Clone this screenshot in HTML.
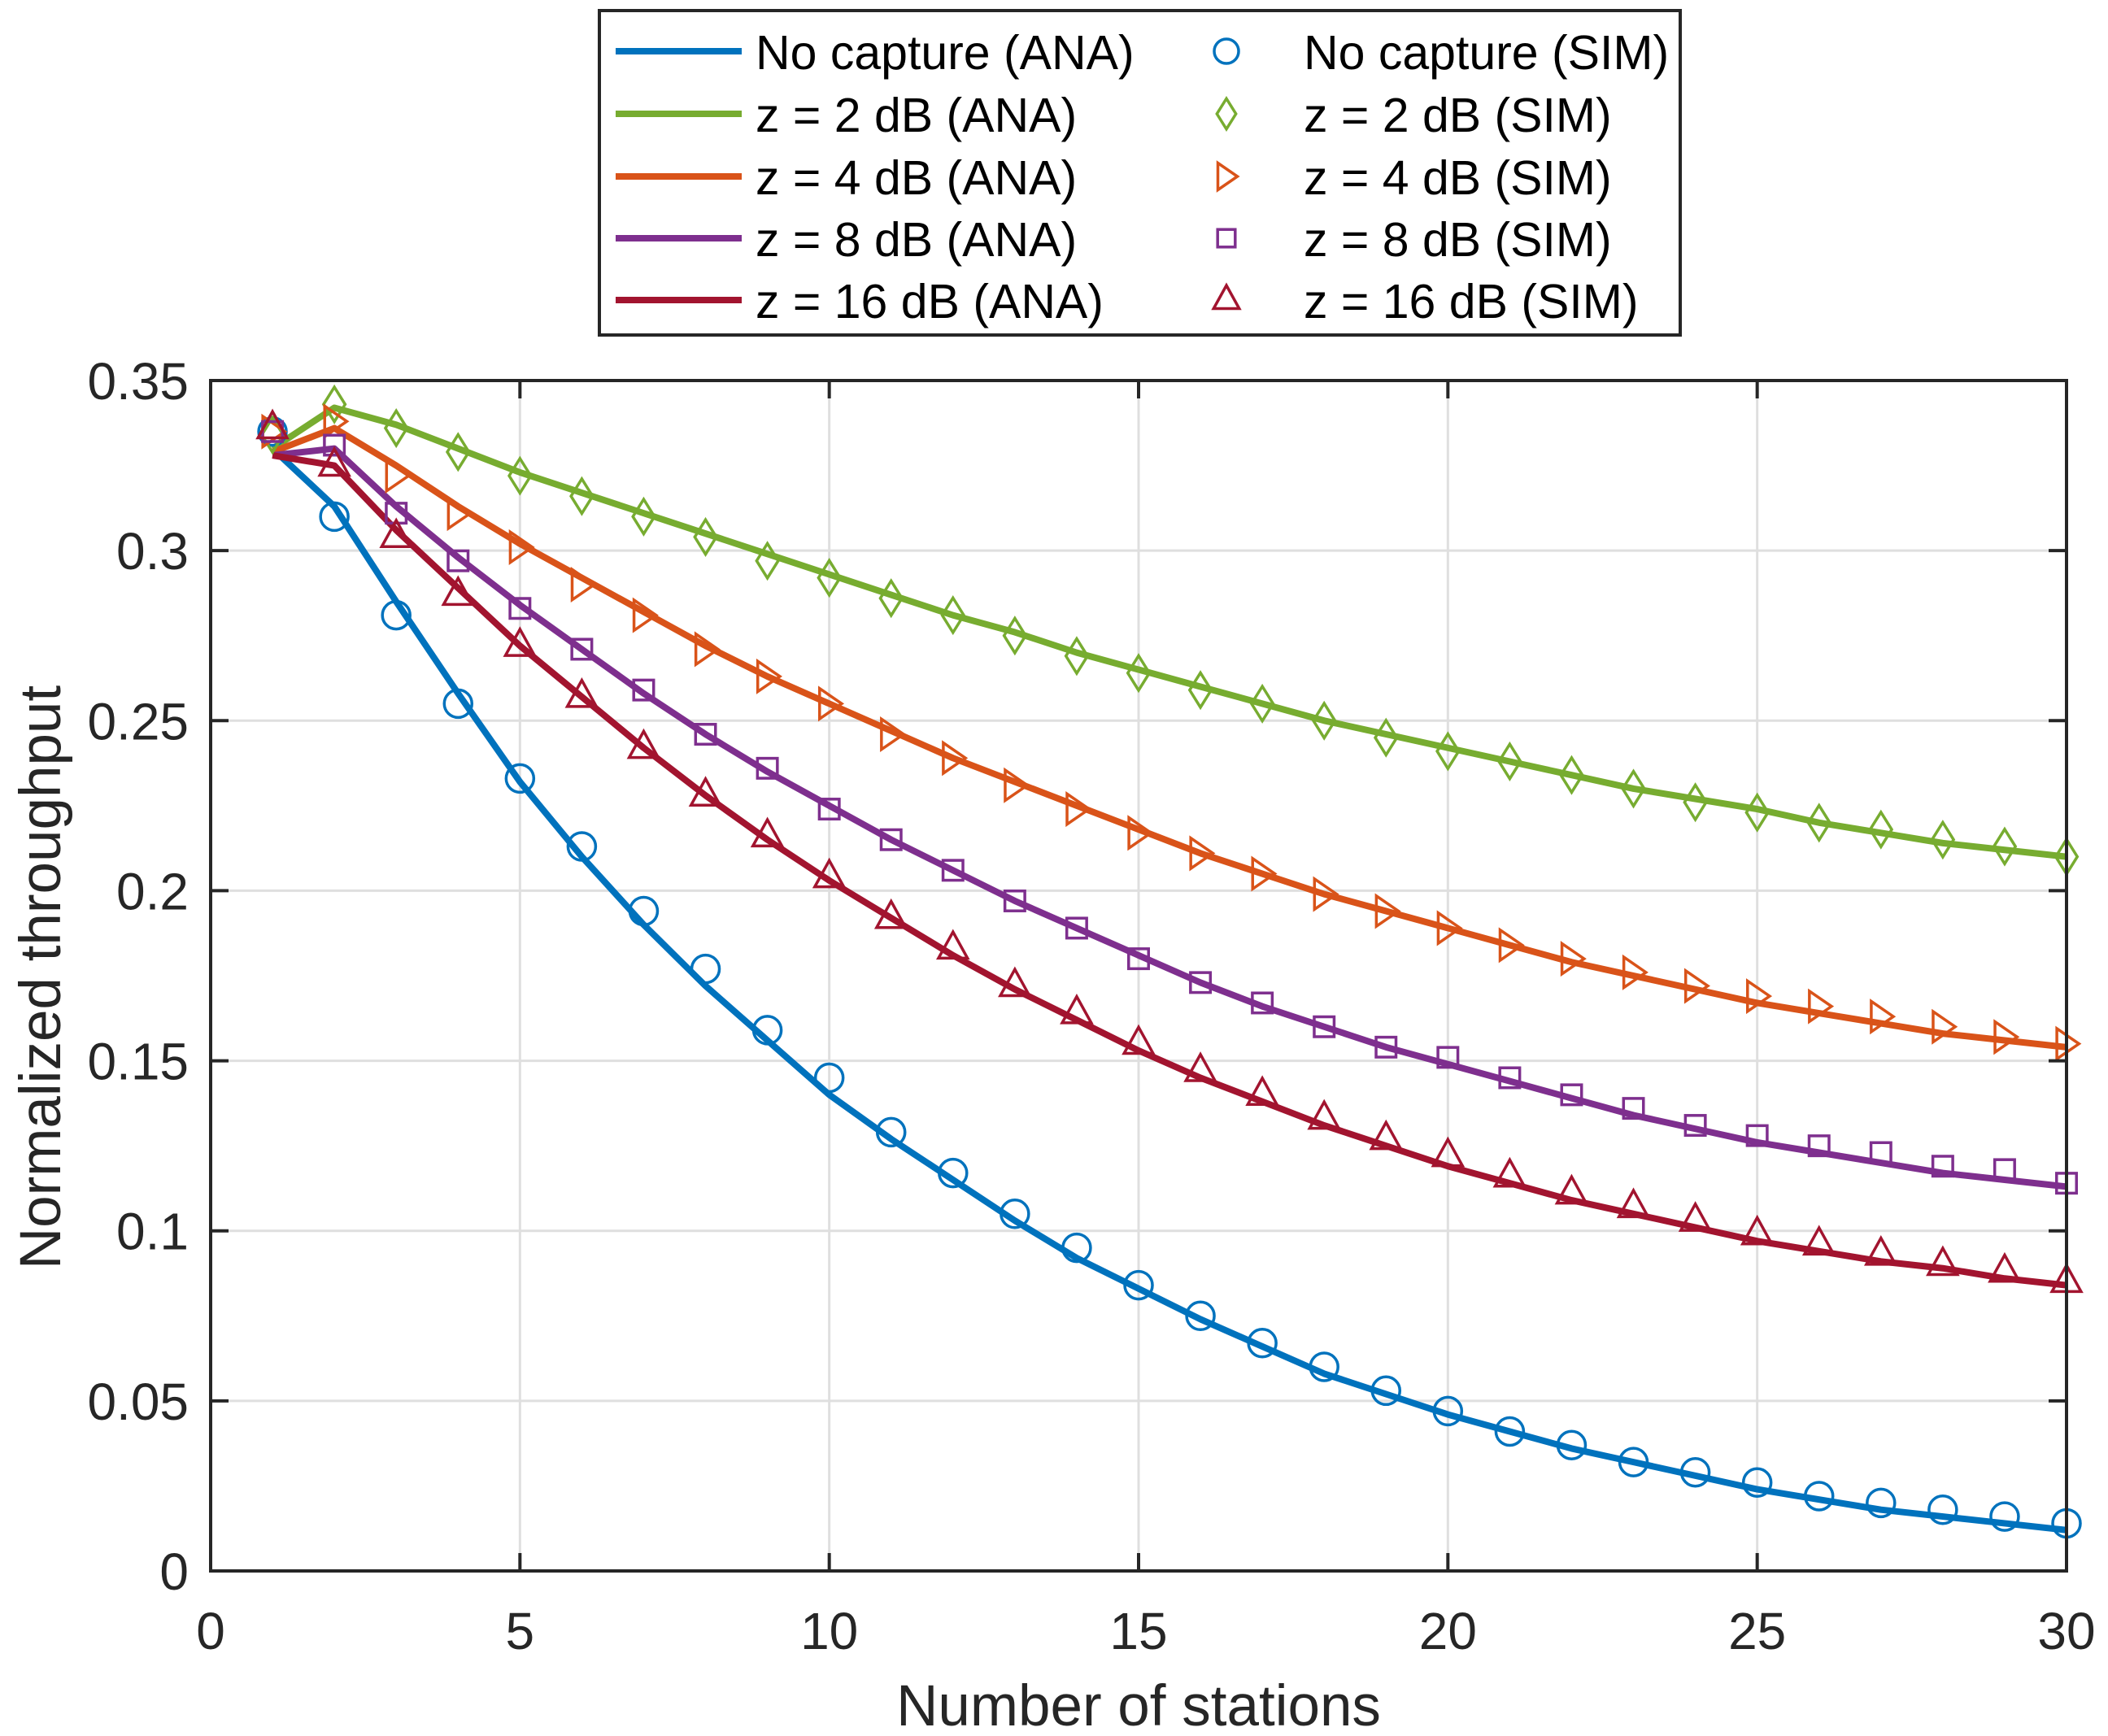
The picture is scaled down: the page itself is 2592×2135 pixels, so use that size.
<!DOCTYPE html>
<html><head><meta charset="utf-8"><style>
html,body{margin:0;padding:0;background:#fff}
svg{display:block;font-family:"Liberation Sans",Arial,sans-serif}
</style></head><body>
<svg id="chart" width="2592" height="2135" viewBox="0 0 2592 2135" xmlns="http://www.w3.org/2000/svg">
<rect width="2592" height="2135" fill="#fff"/>
<g id="grid"></g>
<g id="series"></g>
<g id="axes"></g>
<g id="legend"></g>
</svg>
<script>
const stations = [1,2,3,4,5,6,7,8,9,10,11,12,13,14,15,16,17,18,19,20,21,22,23,24,25,26,27,28,29,30];
const xTicks = [0,5,10,15,20,25,30];
const yTicks = [0,0.05,0.1,0.15,0.2,0.25,0.3,0.35];
const yTickLabels = ["0","0.05","0.1","0.15","0.2","0.25","0.3","0.35"];
const blueAna = [0.33,0.313,0.285,0.258,0.232,0.21,0.19,0.172,0.156,0.14,0.127,0.115,0.103,0.092,0.083,0.074,0.066,0.058,0.052,0.046,0.041,0.036,0.032,0.028,0.024,0.021,0.018,0.016,0.014,0.012];
const blueSim = [0.335,0.31,0.281,0.255,0.233,0.213,0.194,0.177,0.159,0.145,0.129,0.117,0.105,0.095,0.084,0.075,0.067,0.060,0.053,0.047,0.041,0.037,0.032,0.029,0.026,0.022,0.020,0.018,0.016,0.014];
const greenAna = [0.33,0.342,0.337,0.33,0.323,0.317,0.311,0.305,0.299,0.293,0.287,0.281,0.276,0.27,0.265,0.26,0.255,0.25,0.246,0.242,0.238,0.234,0.23,0.227,0.224,0.22,0.217,0.214,0.212,0.21];
const greenSim = [0.334,0.343,0.336,0.329,0.322,0.316,0.31,0.304,0.297,0.292,0.286,0.281,0.275,0.269,0.264,0.259,0.255,0.25,0.245,0.241,0.238,0.234,0.23,0.226,0.223,0.22,0.218,0.215,0.213,0.21];
const orangeAna = [0.329,0.336,0.325,0.313,0.302,0.292,0.282,0.272,0.263,0.255,0.247,0.239,0.232,0.225,0.218,0.211,0.205,0.199,0.194,0.189,0.184,0.179,0.175,0.171,0.167,0.164,0.161,0.158,0.156,0.154];
const orangeSim = [0.335,0.338,0.322,0.311,0.301,0.29,0.281,0.271,0.263,0.255,0.246,0.239,0.231,0.224,0.217,0.211,0.205,0.199,0.194,0.189,0.184,0.18,0.176,0.172,0.169,0.166,0.163,0.16,0.157,0.155];
const purpleAna = [0.328,0.33,0.313,0.298,0.284,0.271,0.258,0.246,0.235,0.225,0.215,0.206,0.197,0.189,0.181,0.173,0.166,0.16,0.154,0.149,0.144,0.139,0.134,0.13,0.126,0.123,0.12,0.117,0.115,0.113];
const purpleSim = [0.335,0.331,0.311,0.297,0.283,0.271,0.259,0.246,0.236,0.224,0.215,0.206,0.197,0.189,0.18,0.173,0.167,0.16,0.154,0.151,0.145,0.14,0.136,0.131,0.128,0.125,0.123,0.119,0.118,0.114];
const redAna = [0.328,0.325,0.306,0.289,0.272,0.257,0.242,0.228,0.215,0.203,0.192,0.181,0.171,0.162,0.153,0.145,0.138,0.131,0.125,0.119,0.114,0.109,0.105,0.101,0.097,0.094,0.091,0.089,0.086,0.084];
const redSim = [0.336,0.325,0.304,0.287,0.272,0.257,0.242,0.228,0.216,0.204,0.192,0.183,0.172,0.164,0.155,0.147,0.14,0.133,0.127,0.122,0.116,0.111,0.107,0.103,0.099,0.096,0.093,0.09,0.088,0.085];
const seriesNames = ["No capture","z = 2 dB","z = 4 dB","z = 8 dB","z = 16 dB"];

const NS="http://www.w3.org/2000/svg";
const L=259,R=2541,T=468,B=1932;
const xs=v=>L+(v-0)/(30-0)*(R-L);
const ys=v=>B-(v-0)/(0.35-0)*(B-T);
function mk(tag,attrs,parent){const e=document.createElementNS(NS,tag);for(const k in attrs)e.setAttribute(k,attrs[k]);parent.appendChild(e);return e;}
const grid=document.getElementById('grid'),axes=document.getElementById('axes'),ser=document.getElementById('series'),leg=document.getElementById('legend');

xTicks.forEach(t=>{
  const g=mk('line',{x1:xs(t),x2:xs(t),y1:T,y2:B,stroke:'#dfdfdf','stroke-width':3},grid);
  
  
  const tk=mk('line',{x1:xs(t),x2:xs(t),y1:B,y2:B-22,stroke:'#262626','stroke-width':4},axes);
  
  
  const tk2=mk('line',{x1:xs(t),x2:xs(t),y1:T,y2:T+22,stroke:'#262626','stroke-width':4},axes);
  
  
  const tx=mk('text',{x:xs(t),y:2028,'font-size':64,'text-anchor':'middle',fill:'#262626'},axes);
  tx.textContent=String(t);
  
  
});
yTicks.forEach((t,i)=>{
  const g=mk('line',{x1:L,x2:R,y1:ys(t),y2:ys(t),stroke:'#dfdfdf','stroke-width':3},grid);
  
  
  const tk=mk('line',{x1:L,x2:L+22,y1:ys(t),y2:ys(t),stroke:'#262626','stroke-width':4},axes);
  
  
  const tk2=mk('line',{x1:R,x2:R-22,y1:ys(t),y2:ys(t),stroke:'#262626','stroke-width':4},axes);
  
  
  const tx=mk('text',{x:232,y:ys(t)+23,'font-size':64,'text-anchor':'end',fill:'#262626'},axes);
  tx.textContent=yTickLabels[i];
  
  
});
const box=mk('rect',{x:L,y:T,width:R-L,height:B-T,fill:'none',stroke:'#262626','stroke-width':4},axes);


const xl=mk('text',{x:1400,y:2122,'font-size':71,'text-anchor':'middle',fill:'#262626'},axes);
xl.textContent='Number of stations';


const yl=mk('text',{x:0,y:0,'font-size':71,'text-anchor':'middle',fill:'#262626',transform:'translate(74,1202) rotate(-90)'},axes);
yl.textContent='Normalized throughput';



const colors=['#0072bd','#77ac30','#d95319','#7e2f8e','#a2142f'];
const anas=[blueAna,greenAna,orangeAna,purpleAna,redAna];
const sims=[blueSim,greenSim,orangeSim,purpleSim,redSim];
const markers=['circle','diamond','triangle-right','square','triangle-up'];
function marker(type,cx,cy,s,col,parent){
  const st={fill:'none',stroke:col,'stroke-width':3.5};
  let e;
  if(type==='circle'){e=mk('circle',Object.assign({cx:cx,cy:cy,r:s},st),parent);}
  else if(type==='square'){e=mk('rect',Object.assign({x:cx-s*0.72,y:cy-s*0.72,width:s*1.44,height:s*1.44},st),parent);}
  else{
    let p;
    if(type==='diamond')p=[[cx,cy-s*1.25],[cx+s*0.78,cy],[cx,cy+s*1.25],[cx-s*0.78,cy]];
    else if(type==='triangle-right')p=[[cx-s*0.7,cy-s*1.1],[cx+s*0.9,cy],[cx-s*0.7,cy+s*1.1]];
    else p=[[cx,cy-s*1.2],[cx+s*1.05,cy+s*0.7],[cx-s*1.05,cy+s*0.7]];
    e=mk('polygon',Object.assign({points:p.map(q=>q.join(',')).join(' ')},st),parent);
  }
  return e;
}
anas.forEach((arr,k)=>{
  const pl=mk('polyline',{points:stations.map((x,i)=>xs(x)+','+ys(arr[i])).join(' '),fill:'none',stroke:colors[k],'stroke-width':8,'stroke-linejoin':'round'},ser);
  
  
});
sims.forEach((arr,k)=>{
  stations.forEach((x,i)=>{
    const m=marker(markers[k],xs(x),ys(arr[i]),17,colors[k],ser);
    
    
  });
});

const lb=mk('rect',{x:737,y:13,width:1329,height:399,fill:'#fff',stroke:'#262626','stroke-width':4},leg);


const rowsY=[63,140,217,293,369];
seriesNames.forEach((nm,k)=>{
  const y=rowsY[k];
  const ln=mk('line',{x1:757,x2:912,y1:y,y2:y,stroke:colors[k],'stroke-width':8},leg);
  
  
  const t1=mk('text',{x:929,y:y+22,'font-size':59,fill:'#000'},leg);
  t1.textContent=nm+' (ANA)';
  
  
  const mm=marker(markers[k],1508,y,15,colors[k],leg);
  
  
  const t2=mk('text',{x:1603,y:y+22,'font-size':59,fill:'#000'},leg);
  t2.textContent=nm+' (SIM)';
  
  
});
</script>
</body></html>
